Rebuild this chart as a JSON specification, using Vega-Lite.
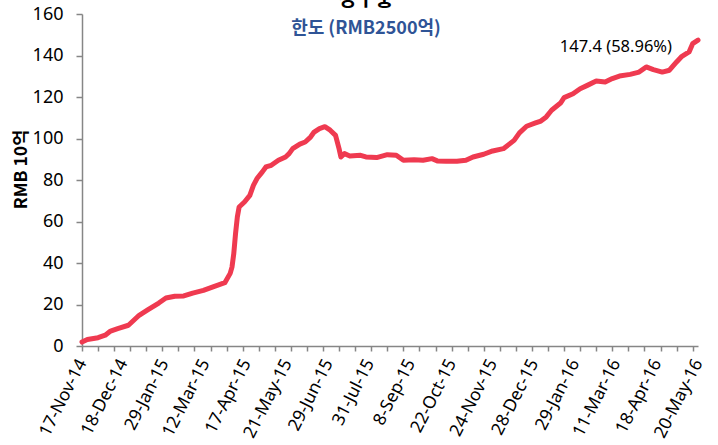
{
  "$schema": "https://vega.github.io/schema/vega-lite/v6.json",
  "width": 616,
  "height": 332,
  "autosize": {"type": "none"},
  "padding": {"left": 82, "top": 14, "right": 20, "bottom": 99},
  "background": "white",
  "config": {"view": {"stroke": null}, "font": "Noto Sans"},
  "title": {
    "text": "\u00a0\u00a0\u00a0\u00a0\u00a0\u00a0\u00a0\u00a0\u00a0\u00a0강구퉁",
    "subtitle": "한도 (RMB2500억)",
    "anchor": "middle",
    "dx": -24,
    "offset": -33,
    "font": "Noto Sans CJK KR",
    "fontSize": 20,
    "fontWeight": "bold",
    "color": "black",
    "subtitleFont": "Noto Sans CJK KR",
    "subtitleFontSize": 18,
    "subtitleFontWeight": "bold",
    "subtitleColor": "#2F5496",
    "subtitlePadding": 10
  },
  "data": {"values": [
    {"day": 0, "rmb": 1.9}, {"day": 3, "rmb": 3.1}, {"day": 9, "rmb": 4.0}, {"day": 13, "rmb": 5.2},
    {"day": 16, "rmb": 7.2}, {"day": 20, "rmb": 8.4}, {"day": 26, "rmb": 10}, {"day": 29, "rmb": 12.4},
    {"day": 32, "rmb": 14.8}, {"day": 37, "rmb": 17.5}, {"day": 43, "rmb": 20.7}, {"day": 47, "rmb": 23.1},
    {"day": 52, "rmb": 24}, {"day": 57, "rmb": 24.1}, {"day": 62, "rmb": 25.5}, {"day": 68, "rmb": 26.8},
    {"day": 73, "rmb": 28.4}, {"day": 80, "rmb": 30.5}, {"day": 83, "rmb": 35}, {"day": 84, "rmb": 38},
    {"day": 85, "rmb": 44.5}, {"day": 86, "rmb": 54.2}, {"day": 87, "rmb": 62.2}, {"day": 88, "rmb": 67},
    {"day": 91, "rmb": 69.4}, {"day": 94, "rmb": 72.6}, {"day": 96, "rmb": 77.4}, {"day": 98, "rmb": 80.7},
    {"day": 101, "rmb": 83.9}, {"day": 103, "rmb": 86.3}, {"day": 106, "rmb": 87.1}, {"day": 110, "rmb": 89.5},
    {"day": 114, "rmb": 91.1}, {"day": 116, "rmb": 92.7}, {"day": 118, "rmb": 95.1}, {"day": 122, "rmb": 97.3},
    {"day": 125, "rmb": 98.3}, {"day": 128, "rmb": 100.7}, {"day": 130, "rmb": 103.1}, {"day": 133, "rmb": 104.8},
    {"day": 136, "rmb": 105.7}, {"day": 139, "rmb": 104}, {"day": 142, "rmb": 101.5}, {"day": 144, "rmb": 95},
    {"day": 145, "rmb": 91.1}, {"day": 147, "rmb": 92.7}, {"day": 150, "rmb": 91.6}, {"day": 156, "rmb": 91.9},
    {"day": 159, "rmb": 91.1}, {"day": 165, "rmb": 90.8}, {"day": 171, "rmb": 92.2}, {"day": 176, "rmb": 91.9},
    {"day": 180, "rmb": 89.5}, {"day": 186, "rmb": 89.8}, {"day": 191, "rmb": 89.5}, {"day": 196, "rmb": 90.3},
    {"day": 199, "rmb": 89.2}, {"day": 204, "rmb": 89}, {"day": 210, "rmb": 89}, {"day": 215, "rmb": 89.5},
    {"day": 219, "rmb": 91.1}, {"day": 225, "rmb": 92.4}, {"day": 230, "rmb": 94}, {"day": 236, "rmb": 95.1},
    {"day": 242, "rmb": 99.1}, {"day": 245, "rmb": 102.7}, {"day": 249, "rmb": 105.9}, {"day": 254, "rmb": 107.5},
    {"day": 257, "rmb": 108.4}, {"day": 260, "rmb": 110.4}, {"day": 263, "rmb": 113.6}, {"day": 268, "rmb": 117.1},
    {"day": 270, "rmb": 119.7}, {"day": 275, "rmb": 121.6}, {"day": 279, "rmb": 124}, {"day": 283, "rmb": 125.6},
    {"day": 288, "rmb": 127.7}, {"day": 293, "rmb": 127.2}, {"day": 297, "rmb": 128.9}, {"day": 301, "rmb": 130.1},
    {"day": 307, "rmb": 130.9}, {"day": 312, "rmb": 132}, {"day": 316, "rmb": 134.5}, {"day": 320, "rmb": 133.2},
    {"day": 325, "rmb": 132}, {"day": 329, "rmb": 132.9}, {"day": 333, "rmb": 136.9}, {"day": 336, "rmb": 139.6},
    {"day": 340, "rmb": 141.7}, {"day": 342, "rmb": 145.7}, {"day": 345, "rmb": 147.4}
  ]},
  "layer": [
    {
      "mark": {"type": "line", "color": "#EF3A50", "strokeWidth": 5, "strokeJoin": "round", "strokeCap": "round"},
      "encoding": {
        "x": {
          "field": "day", "type": "quantitative",
          "scale": {"domain": [0, 345], "nice": false, "zero": false},
          "axis": {
            "orient": "bottom",
            "values": [0, 23, 46, 69, 92, 115, 138, 161, 184, 207, 230, 253, 276, 299, 322, 345],
            "labelExpr": "['17-Nov-14','18-Dec-14','29-Jan-15','12-Mar-15','17-Apr-15','21-May-15','29-Jun-15','31-Jul-15','8-Sep-15','22-Oct-15','24-Nov-15','28-Dec-15','29-Jan-16','11-Mar-16','18-Apr-16','20-May-16'][round(datum.value/23)]",
            "labelAngle": -63,
            "labelAlign": "right",
            "labelBaseline": "middle",
            "labelFontSize": 17.5,
            "labelColor": "black",
            "labelPadding": 14,
            "labelOverlap": false,
            "labelBound": false,
            "labelFlush": false,
            "ticks": false,
            "tickSize": 0,
            "grid": false,
            "domainColor": "#868686",
            "domainWidth": 1.5,
            "title": null
          }
        },
        "y": {
          "field": "rmb", "type": "quantitative",
          "scale": {"domain": [0, 160], "nice": false},
          "axis": {
            "values": [0, 20, 40, 60, 80, 100, 120, 140, 160],
            "grid": false,
            "domainColor": "#868686",
            "domainWidth": 1.5,
            "tickColor": "#868686",
            "tickWidth": 1.5,
            "tickSize": 6,
            "labelFontSize": 18,
            "labelColor": "black",
            "labelPadding": 13,
            "title": "RMB 10억",
            "titleFont": "Noto Sans CJK KR",
            "titleFontSize": 17.5,
            "titleFontWeight": "bold",
            "titleColor": "black",
            "titleAngle": -90,
            "titleX": -61,
            "titleY": 155,
            "titleAlign": "center",
            "titleBaseline": "middle"
          }
        }
      }
    },
    {
      "transform": [{"filter": "datum.day == 345"}],
      "mark": {"type": "text", "align": "right", "baseline": "alphabetic", "dx": -26, "dy": 12, "fontSize": 16.5, "font": "Noto Sans", "color": "black"},
      "encoding": {
        "x": {
          "field": "day", "type": "quantitative",
          "axis": {
            "orient": "bottom",
            "values": [0, 9, 18, 27, 36, 45, 54, 63, 72, 81, 90, 99, 108, 117, 126, 135, 144, 153, 162, 171, 180, 189, 198, 207, 216, 225, 234, 243, 252, 261, 270, 279, 288, 297, 306, 315, 324, 333, 342],
            "labels": false,
            "domain": false,
            "grid": false,
            "ticks": true,
            "tickColor": "#868686",
            "tickWidth": 1.5,
            "tickSize": 5,
            "title": null
          }
        },
        "y": {"field": "rmb", "type": "quantitative"},
        "text": {"value": "147.4 (58.96%)"}
      }
    }
  ],
  "resolve": {"axis": {"x": "independent"}}
}
